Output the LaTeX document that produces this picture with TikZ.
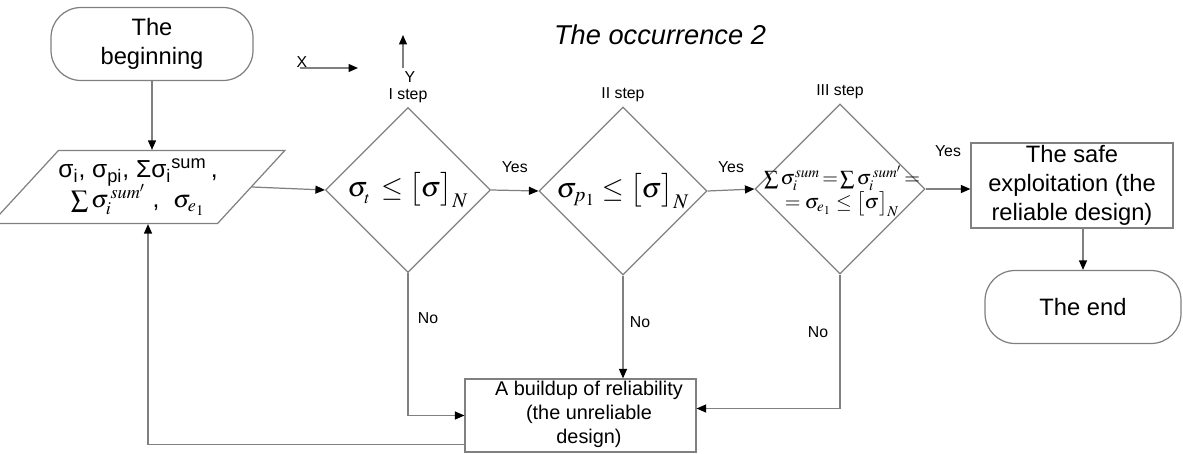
\documentclass[tikz,border=0pt]{standalone}
\usepackage{mathptmx}
\usepackage[no-math]{fontspec}
\setmainfont{Liberation Sans}
\setsansfont{Liberation Sans}
\usetikzlibrary{arrows.meta,calc,positioning,shapes.geometric}
\definecolor{linegray}{RGB}{128,128,128}
\tikzset{pin/.style={draw=linegray, line width=0.7pt, -{Triangle[length=1.9mm, width=1.6mm, black]}},
  term/.style={draw=linegray, line width=0.7pt, rounded corners=6mm, minimum height=14.6mm, align=center, font=\fontsize{13.5}{16.4}\selectfont},
  blk/.style={draw=linegray, line width=0.7pt, align=center, inner sep=0pt},
  test/.style={draw=linegray, line width=0.7pt, diamond, inner sep=0pt, minimum width=33mm, minimum height=33mm, font=\fontsize{16}{19}\selectfont},
  lbl/.style={font=\fontsize{9}{10}\selectfont, inner sep=1pt}}

\begin{document}
\begin{tikzpicture}[x=0.02cm, y=-0.02cm, font=\sffamily]
  \useasboundingbox (0,0) rectangle (1183,453);
  \node[term, minimum width=40.4mm] (beg) at (152,44) {The\\beginning};
  \node[blk, trapezium, trapezium left angle=40, trapezium right angle=140, trapezium stretches body=true,
    minimum width=45.8mm, minimum height=14.6mm, font=\fontsize{14}{17}\selectfont] (inp) at (138,187)
    {σ\textsubscript{i}, σ\textsubscript{pi}, Σσ\textsubscript{i}\textsuperscript{sum}\,,\\[-2pt]
     $\sum\sigma_i^{\,sum'}$\;, \;$\sigma_{e_1}$};
  \node[test] (d1) at (408,190) {$\sigma_{_t}\,\le\bigl[\sigma\bigr]_N$};
  \node[test] (d2) at (623,191) {$\sigma_{p_1}\le\bigl[\sigma\bigr]_N$};
  \node[test, minimum width=34mm, minimum height=34mm] (d3) at (840,189) {};
  \node[align=center, inner sep=0pt, font=\fontsize{11.5}{13.5}\selectfont] (d3txt) at (842,191)
    {$\sum\sigma_i^{sum}\!=\!\sum\sigma_i^{\,sum'}\!=$\\$=\sigma_{e_1}\le\bigl[\sigma\bigr]_N$};
  \node[blk, minimum width=40.4mm, minimum height=17mm, font=\fontsize{13.5}{16.4}\selectfont] (safe) at (1072,185.5)
    {The safe\\exploitation (the\\reliable design)};
  \node[term, minimum width=39.2mm] (end) at (1083,307) {The end};
  \node[blk, minimum width=46.2mm, minimum height=14.6mm] (bld) at (580.5,415.5) {};
  \node[align=center, font=\fontsize{11.3}{13.7}\selectfont] (bldtxt) at (589,414) {A buildup of reliability\\(the unreliable\\design)};
  % labels
  \node[font=\itshape\fontsize{15.5}{18}\selectfont] (ttl) at (660,35) {The occurrence 2};
  \node[lbl, above=0.5mm of d1.north] (s1) {I step};
  \node[lbl, above=0.5mm of d2.north] (s2) {II step};
  \node[lbl, above=0.5mm of d3.north] (s3) {III step};
  % axes
  \coordinate (xs) at (300,68);
  \coordinate (xe) at (358,68);
  \coordinate (ys) at (403,68);
  \coordinate (ye) at (403,35);
  \draw[pin] (xs) -- (xe);
  \draw[pin] (ys) -- (ye);
  \node[lbl] (xl) at (302,62) {X};
  \node[lbl] (yl) at (410,77) {Y};
  % flow
  \draw[pin] (beg.south) -- (beg.south |- inp.north);
  \draw[pin] (inp.east) -- (d1.west);
  \draw[pin] (d1.east) -- node[lbl, above=3mm] (y1) {Yes} (d2.west);
  \draw[pin] (d2.east) -- node[lbl, above=3mm] (y2) {Yes} (d3.west);
  \draw[pin] (d3.east) -- node[lbl, above=6mm] (y3) {Yes} (d3.east -| safe.west);
  \draw[pin] (end.north |- safe.south) -- (end.north);
  \draw[pin] (d1.south) |- (bld.west);
  \draw[pin] (d2.south) -- (d2.south |- bld.north);
  \draw[pin] (d3.south) |- ($(bld.east)+(0,-7)$);
  \draw[pin] ($(bld.south west)+(0,-8)$) -| ($(inp.south)+(10,0)$);
  \node[lbl] (n1) at (428,318) {No};
  \node[lbl] (n2) at (640,322) {No};
  \node[lbl] (n3) at (818,332) {No};
\end{tikzpicture}
\end{document}
